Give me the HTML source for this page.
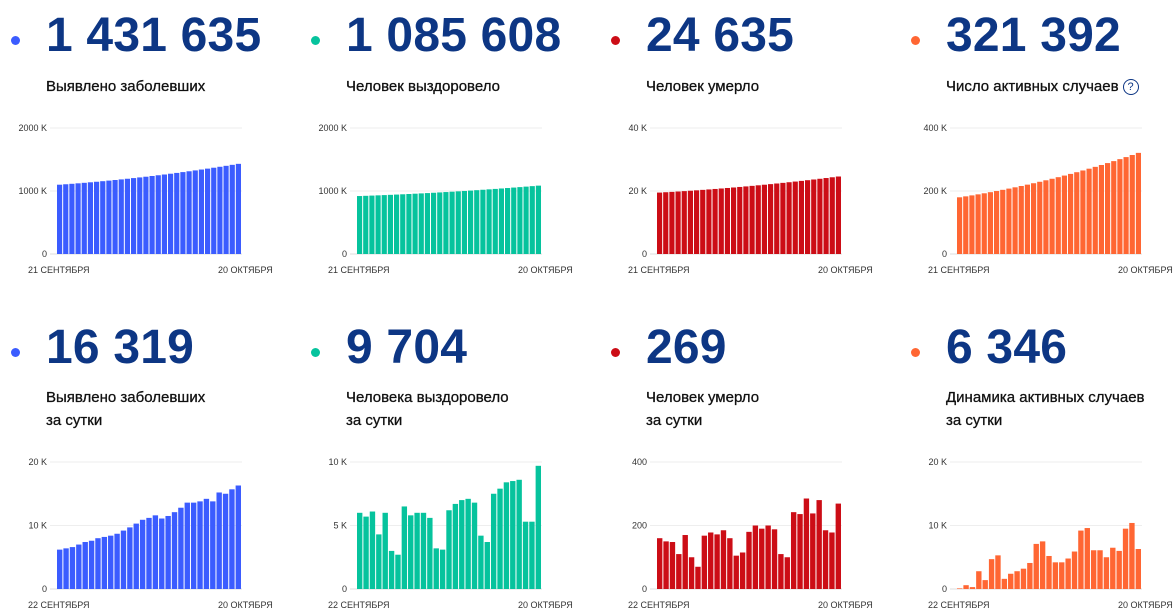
<!DOCTYPE html>
<html><head><meta charset="utf-8"><style>
body{margin:0;width:1176px;height:616px;background:#fff;font-family:"Liberation Sans",Arial,sans-serif;overflow:hidden;position:relative}
.dot{position:absolute;width:9px;height:9px;border-radius:50%}
.num{position:absolute;font-size:48px;font-weight:bold;color:#0d3684;letter-spacing:0.2px;white-space:nowrap}
.lbl{position:absolute;font-size:15px;color:#111;line-height:23px;white-space:nowrap;-webkit-text-stroke:0.3px #111}
.q{display:inline-block;width:14px;height:14px;border:1px solid #0d3684;border-radius:50%;font-size:11px;text-align:center;line-height:14px;color:#0d3684;margin-left:4px;vertical-align:1px;-webkit-text-stroke:0}
svg.c{position:absolute;top:0;overflow:visible}
svg text{font-family:"Liberation Sans",Arial,sans-serif;font-size:9px;fill:#333}
</style></head><body>
<div id="root"></div>
<script>
(function(){
var cols=['#3b5cff','#06c39d','#cc0d16','#ff6633'];
var topD=[
 {n:'1 431 635',l:'Выявлено заболевших',t:['2000 K','1000 K','0'],max:2000,d:[1100,1431]},
 {n:'1 085 608',l:'Человек выздоровело',t:['2000 K','1000 K','0'],max:2000,d:[920,1085]},
 {n:'24 635',l:'Человек умерло',t:['40 K','20 K','0'],max:40,d:[19.5,24.6]},
 {n:'321 392',l:'Число активных случаев<span class="q">?</span>',t:['400 K','200 K','0'],max:400,d:[180,321]}];
var botD=[
 {n:'16 319',l:'Выявлено заболевших<br>за сутки',t:['20 K','10 K','0'],max:20,v:[6.2,6.4,6.6,7.0,7.4,7.6,8.0,8.2,8.4,8.7,9.2,9.7,10.3,10.9,11.2,11.6,11.1,11.5,12.1,12.8,13.6,13.6,13.8,14.2,13.8,15.2,15.0,15.7,16.3]},
 {n:'9 704',l:'Человека выздоровело<br>за сутки',t:['10 K','5 K','0'],max:10,v:[6.0,5.7,6.1,4.3,6.0,3.0,2.7,6.5,5.8,6.0,6.0,5.6,3.2,3.1,6.2,6.7,7.0,7.1,6.8,4.2,3.7,7.5,7.9,8.4,8.5,8.6,5.3,5.3,9.7]},
 {n:'269',l:'Человек умерло<br>за сутки',t:['400','200','0'],max:400,v:[160,150,148,110,170,100,70,168,178,172,185,160,105,115,180,200,190,200,188,110,100,242,236,285,238,280,185,178,269]},
 {n:'6 346',l:'Динамика активных случаев<br>за сутки',t:['20 K','10 K','0'],max:20,v:[0.1,0.6,0.3,2.8,1.4,4.7,5.3,1.6,2.4,2.8,3.2,4.1,7.1,7.5,5.2,4.2,4.2,4.8,5.9,9.2,9.6,6.1,6.1,5.0,6.5,6.0,9.5,10.4,6.3]}];
var h='';
function chart(x0,yTop,y0,max,vals,col,ticks,d1){
 var s='<svg class="c" width="300" height="616" style="left:'+x0+'px">';
 var ym=(yTop+y0)/2;
 s+='<line x1="50" x2="242" y1="'+yTop+'" y2="'+yTop+'" stroke="#eee"/><line x1="50" x2="242" y1="'+ym+'" y2="'+ym+'" stroke="#eee"/><line x1="50" x2="242" y1="'+y0+'" y2="'+y0+'" stroke="#ddd"/>';
 s+='<text x="47" y="'+(yTop+3)+'" text-anchor="end">'+ticks[0]+'</text><text x="47" y="'+(ym+3)+'" text-anchor="end">'+ticks[1]+'</text><text x="47" y="'+(y0+3)+'" text-anchor="end">'+ticks[2]+'</text>';
 var n=vals.length,x1=57,x2=242,w=(x2-x1)/n;
 for(var i=0;i<n;i++){var hh=vals[i]/max*(y0-yTop);s+='<rect x="'+(x1+i*w).toFixed(2)+'" y="'+(y0-hh).toFixed(2)+'" width="'+(w-1).toFixed(2)+'" height="'+hh.toFixed(2)+'" fill="'+col+'"/>';}
 s+='<text x="28" y="'+(y0+19)+'">'+d1+'</text><text x="218" y="'+(y0+19)+'">20 ОКТЯБРЯ</text></svg>';
 return s;
}
topD.forEach(function(p,i){var x=i*300;
 h+='<div class="dot" style="left:'+(x+11)+'px;top:36px;background:'+cols[i]+'"></div><div class="num" style="left:'+(x+46)+'px;top:8px">'+p.n+'</div><div class="lbl" style="left:'+(x+46)+'px;top:75px">'+p.l+'</div>';
 var v=[];for(var k=0;k<30;k++){var t=k/29;v.push(p.d[0]+(p.d[1]-p.d[0])*(t*0.6+t*t*0.4));}
 h+=chart(x,128,254,p.max,v,cols[i],p.t,'21 СЕНТЯБРЯ');});
botD.forEach(function(p,i){var x=i*300;
 h+='<div class="dot" style="left:'+(x+11)+'px;top:348px;background:'+cols[i]+'"></div><div class="num" style="left:'+(x+46)+'px;top:320px">'+p.n+'</div><div class="lbl" style="left:'+(x+46)+'px;top:386px">'+p.l+'</div>';
 h+=chart(x,462,589,p.max,p.v,cols[i],p.t,'22 СЕНТЯБРЯ');});
document.getElementById('root').innerHTML=h;
})();
</script>
</body></html>
